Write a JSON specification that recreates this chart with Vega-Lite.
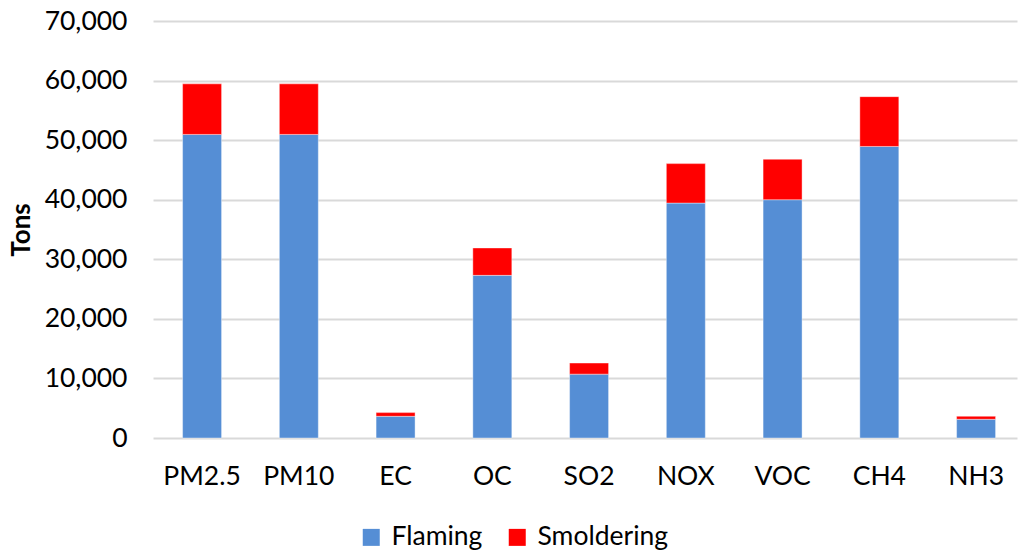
{
  "$schema": "https://vega.github.io/schema/vega-lite/v6.json",
  "width": 864,
  "height": 417,
  "autosize": {"type": "none"},
  "padding": {"left": 153, "top": 21, "right": 1, "bottom": 116},
  "background": "white",
  "config": {
    "font": "Lato",
    "view": {"stroke": null},
    "axis": {"labelFont": "Lato", "labelColor": "#000000", "labelFontSize": 26.5, "titleFont": "Lato"}
  },
  "data": {
    "values": [
      {"pollutant": "PM2.5", "phase": "Flaming", "tons": 50960},
      {"pollutant": "PM2.5", "phase": "Smoldering", "tons": 8490},
      {"pollutant": "PM10", "phase": "Flaming", "tons": 50960},
      {"pollutant": "PM10", "phase": "Smoldering", "tons": 8490},
      {"pollutant": "EC", "phase": "Flaming", "tons": 3640},
      {"pollutant": "EC", "phase": "Smoldering", "tons": 620},
      {"pollutant": "OC", "phase": "Flaming", "tons": 27300},
      {"pollutant": "OC", "phase": "Smoldering", "tons": 4600},
      {"pollutant": "SO2", "phase": "Flaming", "tons": 10720},
      {"pollutant": "SO2", "phase": "Smoldering", "tons": 1860},
      {"pollutant": "NOX", "phase": "Flaming", "tons": 39440},
      {"pollutant": "NOX", "phase": "Smoldering", "tons": 6620},
      {"pollutant": "VOC", "phase": "Flaming", "tons": 40000},
      {"pollutant": "VOC", "phase": "Smoldering", "tons": 6790},
      {"pollutant": "CH4", "phase": "Flaming", "tons": 48940},
      {"pollutant": "CH4", "phase": "Smoldering", "tons": 8360},
      {"pollutant": "NH3", "phase": "Flaming", "tons": 3140},
      {"pollutant": "NH3", "phase": "Smoldering", "tons": 510}
    ]
  },
  "mark": {"type": "bar", "stroke": "white", "strokeOpacity": 0.4, "strokeWidth": 1},
  "encoding": {
    "x": {
      "field": "pollutant",
      "type": "nominal",
      "sort": null,
      "scale": {"paddingInner": 0.597, "paddingOuter": 0.2636, "align": 0.58},
      "axis": {
        "title": null,
        "labelAngle": 0,
        "ticks": false,
        "domain": false,
        "labelPadding": 38,
        "labelBaseline": "middle"
      }
    },
    "y": {
      "field": "tons",
      "type": "quantitative",
      "stack": "zero",
      "scale": {"domain": [0, 70000]},
      "axis": {
        "title": "Tons",
        "titleFontSize": 26,
        "titleFontWeight": "bold",
        "titleColor": "#000000",
        "titlePadding": 10,
        "format": ",d",
        "values": [0, 10000, 20000, 30000, 40000, 50000, 60000, 70000],
        "labelOverlap": false,
        "ticks": false,
        "domain": false,
        "labelPadding": 26,
        "gridColor": "#d9d9d9",
        "gridWidth": 2
      }
    },
    "color": {
      "field": "phase",
      "type": "nominal",
      "scale": {"domain": ["Flaming", "Smoldering"], "range": ["#558ed5", "#ff0000"]},
      "legend": {
        "title": null,
        "orient": "none",
        "direction": "horizontal",
        "legendX": 205,
        "legendY": 503,
        "symbolType": "square",
        "symbolSize": 289,
        "symbolStrokeWidth": 0,
        "symbolOpacity": 1,
        "labelFontSize": 26.5,
        "labelFont": "Lato",
        "labelColor": "#000000",
        "labelOffset": 7,
        "columnPadding": 21
      }
    },
    "order": {"field": "phase", "sort": "ascending"}
  }
}
